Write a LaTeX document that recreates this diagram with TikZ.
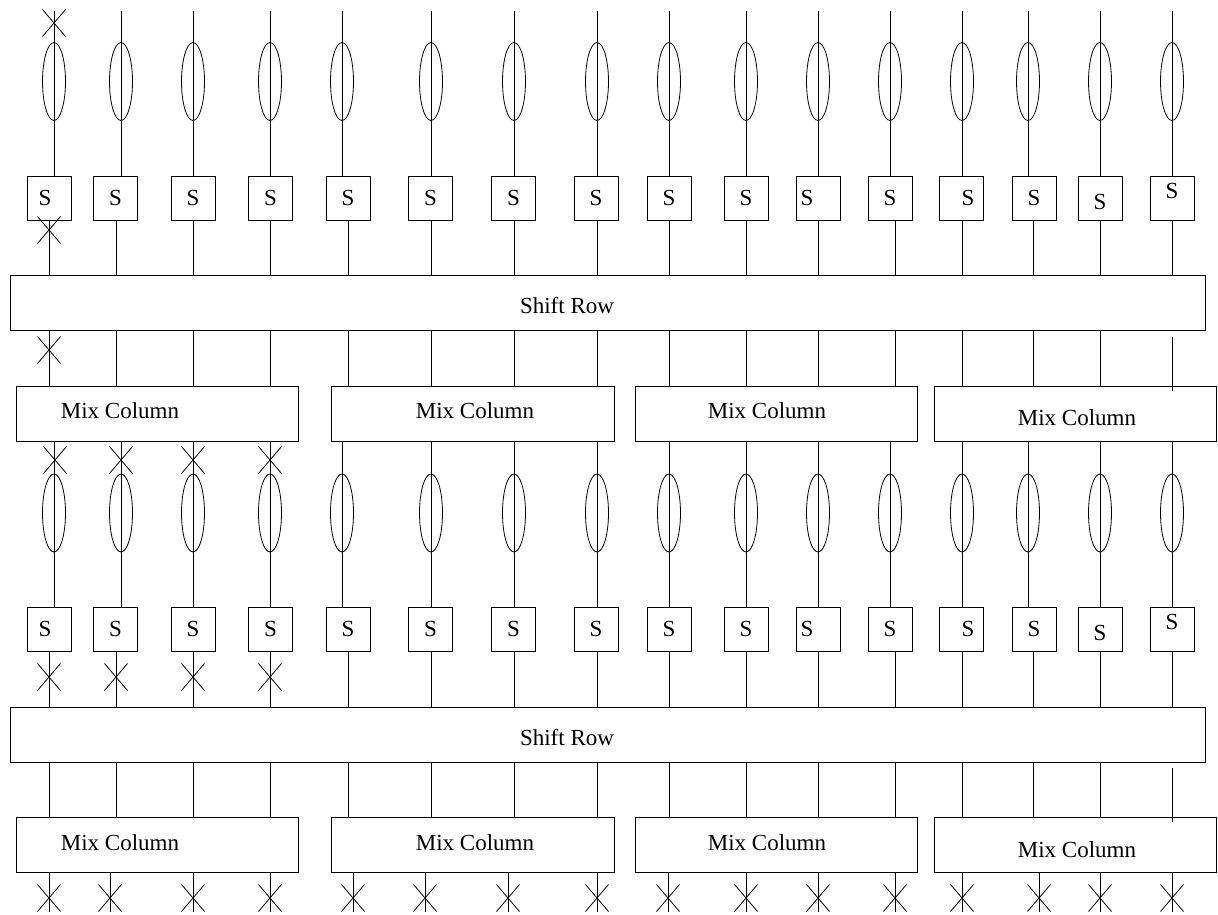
\documentclass[tikz,border=0pt]{standalone}
\usepackage{fontspec}
\setmainfont{Liberation Serif}
\usetikzlibrary{shapes.geometric,calc}
\begin{document}
\begin{tikzpicture}[x=1pt,y=-1pt,line width=0.8pt,
  sbox/.style={draw,minimum width=44pt,minimum height=44pt,inner sep=0pt},
  ell/.style={draw,ellipse,minimum width=23pt,minimum height=78pt,inner sep=0pt},
  bar/.style={draw,inner sep=0pt,minimum height=55pt},
  lbl/.style={inner sep=0pt,font=\fontsize{23}{27}\selectfont},
  xmark/.pic={\draw (-11.5,-13.5) -- (11.5,13.5) (-11.5,13.5) -- (11.5,-13.5);}
]
\useasboundingbox (0,0) rectangle (1218,915);
% big boxes
\node[bar,minimum width=1195pt] (srA) at (607.5,302.5) {};
\node[lbl] at (567,306) {Shift Row};
\node[bar,minimum width=1195pt] (srB) at (607.5,734.5) {};
\node[lbl] at (567,738) {Shift Row};
\foreach \m/\cx/\w/\tx/\ty in {1/157/282/120/0, 2/472.5/283/475/0, 3/776/282/767/0, 4/1075/282/1077/7}{
  \node[bar,minimum width=\w pt] (mA\m) at (\cx,413.5) {};
  \node[lbl] at (\tx,411+\ty) {Mix Column};
  \node[bar,minimum width=\w pt] (mB\m) at (\cx,845) {};
  \node[lbl] at (\tx,843+\ty) {Mix Column};
}
% columns
\foreach \i/\xu/\xl/\bx/\tx/\ty/\xb in {
  1/54/49/49/45/0/49, 2/121/116/115.5/115.5/0/110, 3/193/193/193/193/0/193,
  4/270/270/270.5/270.5/0/270, 5/342/348/348/348/0/353, 6/431/431/430.5/430.5/0/425,
  7/514/514/513.5/513.5/0/508, 8/597/597/596/596/0/597, 9/669/669/669/669/0/668,
  10/746/746/746/746/0/746, 11/818/818/818/807/0/818, 12/890/895/890/890/0/895,
  13/962/962/961.5/968/0/962, 14/1028/1033/1034/1034/0/1039, 15/1100/1100/1100/1100/4/1100,
  16/1172/1172/1172/1172/-7/1172}{
  \pgfmathtruncatemacro{\m}{(\i-1)/4+1}
  \coordinate (cu\i) at (\xu,11);
  \coordinate (cl\i) at (\xl,0);
  \coordinate (cb\i) at (\xb,912);
  \node[sbox] (sA\i) at (\bx,198) {};
  \node[lbl] at (\tx,198+\ty) {S};
  \node[sbox] (sB\i) at (\bx,629) {};
  \node[lbl] at (\tx,629+\ty) {S};
  \node[ell] (eA\i) at (\xu,81.5) {};
  \node[ell] (eB\i) at (\xu,513) {};
  \draw (cu\i) -- (cu\i |- sA\i.north);
  \draw (cl\i |- sA\i.south) -- (cl\i |- srA.north);
  \draw (cu\i |- mA\m.south) -- (cu\i |- sB\i.north);
  \draw (cl\i |- sB\i.south) -- (cl\i |- srB.north);
  \draw (cb\i |- mB\m.south) -- (cb\i);
  \pic at (\xb,898) {xmark};
}
\foreach \i in {1,...,15}{
  \pgfmathtruncatemacro{\m}{(\i-1)/4+1}
  \draw (cl\i |- srA.south) -- (cl\i |- mA\m.north);
  \draw (cl\i |- srB.south) -- (cl\i |- mB\m.north);
}
\coordinate (dA) at (1172,337);
\coordinate (dB) at (1172,768);
\draw (dA) -- ($(dA |- mA4.north)+(0,5)$);
\draw (dB) -- ($(dB |- mB4.north)+(0,5)$);
% crosses
\pic at (54,23) {xmark};
\pic at (49,230) {xmark};
\pic at (49,350) {xmark};
\foreach \x in {55,121,193,270}{\pic at (\x,460) {xmark};}
\foreach \x in {49,116,193,270}{\pic at (\x,677) {xmark};}
\end{tikzpicture}
\end{document}
